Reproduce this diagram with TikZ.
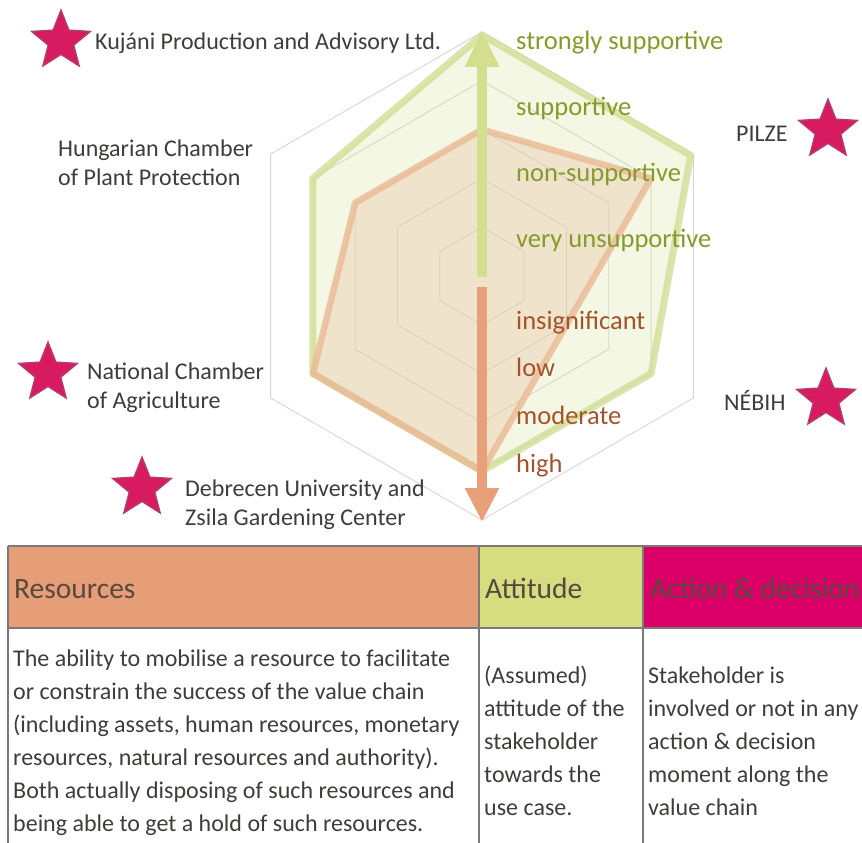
\documentclass[tikz,border=0pt]{standalone}
\usepackage{fontspec}
\setmainfont{Carlito}
\usetikzlibrary{arrows.meta,shapes.geometric}

\definecolor{gridc}{HTML}{D6D6D6}
\definecolor{attc}{HTML}{D3DF8E}
\definecolor{attline}{HTML}{D0DE95}
\definecolor{resc}{HTML}{E8A07A}
\definecolor{resline}{HTML}{EBBA95}
\definecolor{resfill}{HTML}{E8C4A6}
\definecolor{greentext}{HTML}{869A2C}
\definecolor{orangetext}{HTML}{A3532B}
\definecolor{labeltext}{HTML}{403C3A}
\definecolor{starfill}{HTML}{D81B60}
\definecolor{starline}{HTML}{B0406E}
\definecolor{hdrres}{HTML}{E59E76}
\definecolor{hdratt}{HTML}{D5DD7F}
\definecolor{hdract}{HTML}{DA0068}
\definecolor{hdrtext}{HTML}{594840}
\definecolor{tableline}{HTML}{7A7A7A}

\tikzset{
  gridline/.style={draw=gridc, line width=0.9pt},
  attpoly/.style={fill=attc, fill opacity=0.25, draw=attline, draw opacity=0.8, line width=7pt, line join=round},
  respoly/.style={fill=resfill, fill opacity=0.38, draw=resline, draw opacity=0.8, line width=6.5pt, line join=round},
  attarrow/.style={draw=attc, line width=10pt, -{Triangle[width=32pt,length=37pt]}},
  resarrow/.style={draw=resc, line width=10pt, -{Triangle[width=32pt,length=34pt]}},
  stakestar/.style={star, star points=5, star point ratio=2.3, minimum size=62pt, inner sep=0pt,
                    fill=starfill, draw=starline, line width=1.3pt},
  stakelabel/.style={anchor=base west, inner sep=0pt, text=labeltext, font=\fontsize{24}{29}\selectfont},
  attlabel/.style={anchor=base west, inner sep=0pt, text=greentext, font=\fontsize{26.5}{30}\selectfont},
  reslabel/.style={anchor=base west, inner sep=0pt, text=orangetext, font=\fontsize{26.5}{30}\selectfont},
  hdrlabel/.style={anchor=base west, inner sep=0pt, text=hdrtext, font=\fontsize{29.5}{34}\selectfont},
  bodytext/.style={anchor=base west, inner sep=0pt, text=labeltext, font=\fontsize{24}{33}\selectfont},
  tablerule/.style={draw=tableline, line width=1.2pt},
}

\begin{document}
\begin{tikzpicture}[x=1pt, y=-1pt]
\useasboundingbox (0,0) rectangle (862,843);
\begin{scope}
\clip (0,0) rectangle (862,843);

% ---------- radar grid ----------
\begin{scope}[shift={(482,276)}]
  \foreach \r in {48.8,97.6,146.4,195.2,244}
    \draw[gridline] (270:\r) -- (330:\r) -- (30:\r) -- (90:\r) -- (150:\r) -- (210:\r) -- cycle;
  % attitude polygon
  \draw[attpoly] (270:241) -- (330:241) -- (30:195.2) -- (90:195.2) -- (150:195.2) -- (210:195.2) -- cycle;
  % resources polygon
  \draw[respoly] (270:146.4) -- (330:195.2) -- (30:97.6) -- (90:195.2) -- (150:195.2) -- (210:146.4) -- cycle;
\end{scope}

% ---------- axis arrows ----------
\coordinate (gA) at (482,277);
\coordinate (gB) at (482,30);
\coordinate (oA) at (482,287);
\coordinate (oB) at (482,522);
\draw[attarrow] (gA) -- (gB);
\draw[resarrow] (oA) -- (oB);

% ---------- scale labels ----------
\node[attlabel] (a1) at (516,50)  {strongly supportive};
\node[attlabel] (a2) at (516,115) {supportive};
\node[attlabel] (a3) at (516,181) {non-supportive};
\node[attlabel] (a4) at (516,247) {very unsupportive};
\node[reslabel] (r1) at (516,329) {insignificant};
\node[reslabel] (r2) at (516,376) {low};
\node[reslabel] (r3) at (516,424) {moderate};
\node[reslabel] (r4) at (516,472) {high};

% ---------- stakeholders ----------
\node[stakestar] (st1) at (61,41) {};
\node[stakelabel] (k1) at (95,50) {Kujáni Production and Advisory Ltd.};
\node[stakelabel] (h1) at (58,156) {Hungarian Chamber};
\node[stakelabel] (h2) at (58,185) {of Plant Protection};
\node[stakestar] (st2) at (828,130) {};
\node[stakelabel] (p1) at (736,141) {PILZE};
\node[stakestar] (st3) at (826,399) {};
\node[stakelabel] (n1) at (724,410) {NÉBIH};
\node[stakestar] (st4) at (48,373) {};
\node[stakelabel] (c1) at (87,379) {National Chamber};
\node[stakelabel] (c2) at (87,408) {of Agriculture};
\node[stakestar] (st5) at (142,488) {};
\node[stakelabel] (d1) at (185,496) {Debrecen University and};
\node[stakelabel] (d2) at (185,525) {Zsila Gardening Center};

% ---------- table ----------
\fill[hdrres] (8,546) rectangle (479,628);
\fill[hdratt] (479,546) rectangle (643,628);
\fill[hdract] (643,546) rectangle (870,628);
\draw[tablerule] (8,546) -- (870,546);
\draw[tablerule] (8,628) -- (870,628);
\draw[tablerule] (8,546) -- (8,850);
\draw[tablerule] (479,546) -- (479,850);
\draw[tablerule] (643,546) -- (643,850);

\node[hdrlabel] (hr) at (14,598) {Resources};
\node[hdrlabel] (ha) at (485,598) {Attitude};
\node[hdrlabel] (hd) at (650,598) {Action \& decision};

\foreach \t [count=\i] in {{The ability to mobilise a resource to facilitate},
  {or constrain the success of the value chain},
  {(including assets, human resources, monetary},
  {resources, natural resources and authority).},
  {Both actually disposing of such resources and},
  {being able to get a hold of such resources.}}
  \node[bodytext] (bres\i) at (13,633+33*\i) {\t};

\foreach \t [count=\i] in {{(Assumed)},{attitude of the},{stakeholder},{towards the},{use case.}}
  \node[bodytext] (batt\i) at (484,650+33*\i) {\t};

\foreach \t [count=\i] in {{Stakeholder is},{involved or not in any},{action \& decision},{moment along the},{value chain}}
  \node[bodytext] (bact\i) at (648,650+33*\i) {\t};

\end{scope}
\end{tikzpicture}
\end{document}
